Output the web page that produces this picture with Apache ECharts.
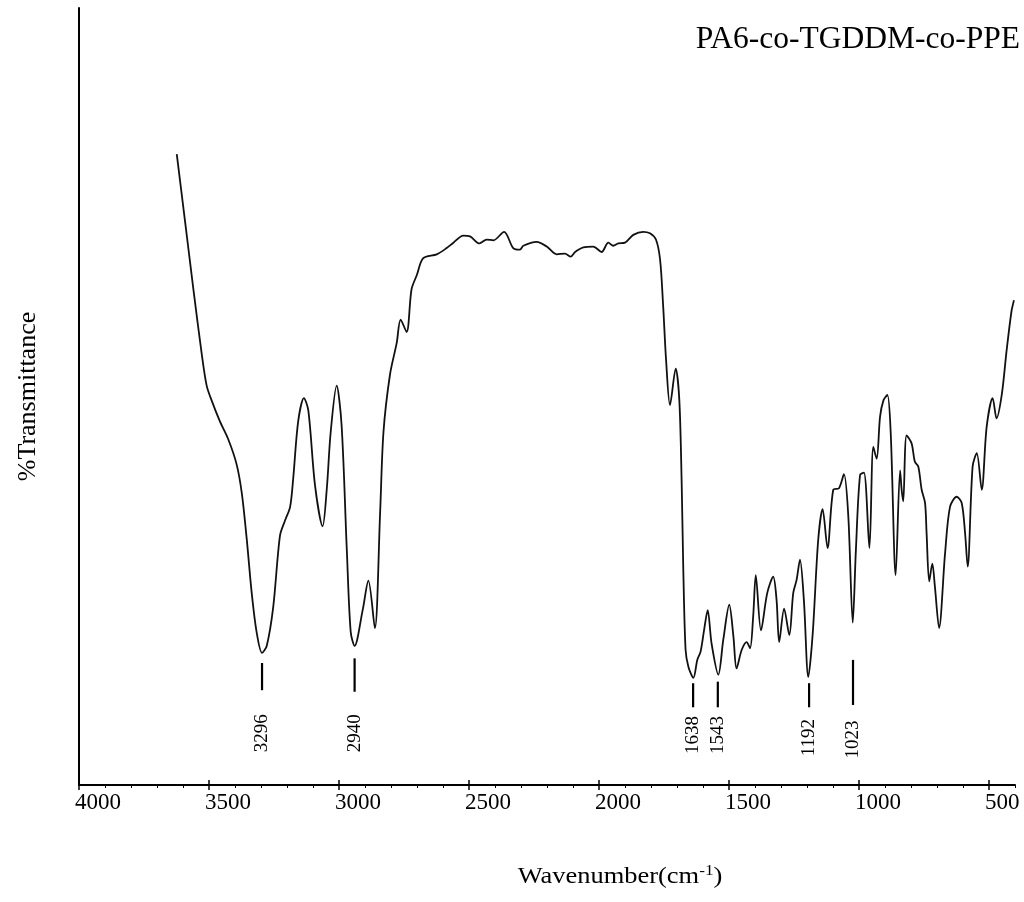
<!DOCTYPE html>
<html>
<head>
<meta charset="utf-8">
<script src="https://cdn.jsdelivr.net/npm/echarts@6/dist/echarts.min.js"></script>
<style>
html,body{margin:0;padding:0;background:#fff;}
#chart{width:1024px;height:902px;}
</style>
</head>
<body>
<div id="chart"></div>
<script>
// Spectrum (wavenumber in cm^-1, transmittance in arbitrary % units)
var wavenumbers = [3624,3592,3560,3528,3509,3490,3458,3426,3394,3374,3355,3336,3317,3296,3278,3253,3227,3208,3188,3176,3157,3135,3118,3092,3063,3047,3032,3009,2990,2970,2955,2940,2909,2887,2862,2842,2829,2804,2778,2763,2740,2721,2701,2676,2624,2586,2560,2522,2496,2460,2432,2406,2365,2330,2304,2291,2240,2201,2163,2131,2109,2092,2060,2022,1990,1964,1945,1926,1900,1868,1830,1804,1781,1765,1753,1742,1727,1705,1691,1682,1676,1667,1656,1637,1622,1609,1596,1582,1567,1541,1522,1499,1483,1471,1451,1432,1419,1407,1397,1377,1353,1330,1317,1307,1288,1268,1253,1240,1227,1212,1195,1178,1157,1140,1121,1099,1077,1058,1041,1024,1012,996,981,960,945,932,919,906,891,878,859,842,836,830,817,798,785,772,759,746,740,730,718,708,692,669,650,624,605,592,582,563,547,528,509,486,471,451,432,413,404];
var transmittance = [81.2,72.5,63.8,55.5,51.4,49.5,46.8,44.5,41.3,37.6,31.7,24.8,19.7,17.0,17.9,22.9,32.1,34.0,35.8,39.5,46.8,49.8,48.2,38.5,33.3,38.1,45.4,51.4,46.3,30.3,19.7,17.9,22.5,26.3,20.2,34.9,45.4,52.8,56.9,59.9,58.3,63.8,65.6,67.8,68.3,69.1,69.8,70.7,70.6,69.7,70.2,70.1,71.2,69.1,68.9,69.4,69.9,69.3,68.3,68.4,68.0,68.6,69.2,69.3,68.6,69.8,69.4,69.7,69.8,70.8,71.2,71.0,70.2,67.6,61.5,54.7,48.9,53.6,49.5,38.8,28.1,17.4,15.2,13.8,16.1,17.2,19.9,22.5,18.2,14.2,18.7,23.2,19.1,15.0,17.4,18.4,17.6,21.7,27.0,19.9,24.7,26.8,23.8,18.4,22.7,19.3,24.7,26.4,29.0,23.8,13.9,19.5,31.5,35.5,30.5,38.0,38.2,40.0,34.5,20.9,30.2,39.9,40.2,30.5,43.5,42.0,47.4,49.5,50.2,45.3,27.0,40.5,38.0,36.5,45.0,44.0,41.6,41.0,38.0,36.3,32.4,26.2,28.5,25.5,20.2,29.8,35.8,37.1,36.3,32.4,28.1,41.0,42.7,38.0,46.1,49.8,47.2,50.2,56.0,61.1,62.4];

// Peak annotations
var peakLabels = ['3296','2940','1638','1543','1192','1023'];
var peakPositions = [3296,2940,1638,1543,1192,1023];
var peakMarkTop = [15.7,16.3,13.1,13.3,13.1,16.1];
var peakMarkBottom = [12.2,12.0,10.0,10.0,10.0,10.3];
var peakLabelBase = [4.2,4.2,4.0,4.0,3.7,3.4];

// Axis ticks
var majorTicks = [4000,3500,3000,2500,2000,1500,1000,500];
var minorTicks = [3900,3800,3700,3600,3400,3300,3200,3100,2900,2800,2700,2600,2400,2300,2200,2100,1900,1800,1700,1600,1400,1300,1200,1100,900,800,700,600,400];

var xMin = 400, xMax = 4000;
var serif = '"Liberation Serif","DejaVu Serif",serif';

var spectrum = wavenumbers.map(function(w, i){ return [w, transmittance[i]]; });
var peaks = peakPositions.map(function(w, i){ return [w, peakMarkTop[i], peakMarkBottom[i], peakLabelBase[i], i]; });

var chart = echarts.init(document.getElementById('chart'), null, {renderer:'canvas'});

function baseX(extra){
  var o = {
    type:'value', min:xMin, max:xMax, inverse:true, position:'bottom', gridIndex:0,
    splitLine:{show:false},
    axisLine:{show:false},
    axisTick:{show:false},
    axisLabel:{show:false}
  };
  for (var k in extra) o[k] = extra[k];
  return o;
}

var option = {
  backgroundColor:'#fff',
  animation:false,
  title:{
    text:'PA6-co-TGDDM-co-PPE',
    right:4, top:24, padding:0,
    textStyle:{fontFamily:serif, fontSize:31.5, fontWeight:'normal', color:'#000'}
  },
  grid:{left:79, right:9, top:8, bottom:117, containLabel:false, outerBoundsMode:'none'},
  xAxis:[
    baseX({
      axisLine:{show:true, onZero:false, lineStyle:{color:'#000', width:2}},
      axisTick:{show:true, inside:false, length:5, customValues:majorTicks, lineStyle:{color:'#000', width:1.5}},
      axisLabel:{show:true, customValues:majorTicks, align:'left', margin:6, fontFamily:serif, fontSize:23, color:'#000',
        padding:[0,0,0,-4],
        formatter:function(v){ return String(v); }}
    }),
    baseX({
      axisTick:{show:true, inside:true, length:5, customValues:majorTicks, lineStyle:{color:'#000', width:1.5}}
    }),
    baseX({
      axisTick:{show:true, inside:false, length:3, customValues:minorTicks, lineStyle:{color:'#000', width:1}}
    })
  ],
  yAxis:{
    type:'value', min:0, max:100,
    name:'%Transmittance', nameLocation:'middle', nameGap:38,
    nameTextStyle:{fontFamily:serif, fontSize:26, color:'#000'},
    axisLine:{show:true, onZero:false, lineStyle:{color:'#000', width:2}},
    axisTick:{show:false}, axisLabel:{show:false}, splitLine:{show:false}
  },
  graphic:[{
    type:'text', x:620, y:877, scaleX:1.15,
    style:{
      text:'Wavenumber(cm{sup|-1})',
      rich:{sup:{fontFamily:serif, fontSize:15, verticalAlign:'top', padding:[0,0,12,0], fill:'#000'}},
      fontFamily:serif, fontSize:23, fill:'#000',
      textAlign:'center', textVerticalAlign:'middle'
    }
  }],
  series:[
    {
      type:'line', xAxisIndex:0, data:spectrum,
      showSymbol:false, smooth:0.3, silent:true,
      lineStyle:{color:'#111', width:1.8}
    },
    {
      type:'custom', xAxisIndex:0, data:peaks, silent:true, clip:false,
      encode:{x:0, y:1},
      renderItem:function(params, api){
        var w = api.value(0);
        var p1 = api.coord([w, api.value(1)]);
        var p2 = api.coord([w, api.value(2)]);
        var p3 = api.coord([w, api.value(3)]);
        var idx = api.value(4);
        return {
          type:'group',
          children:[
            {type:'line', shape:{x1:p1[0], y1:p1[1], x2:p2[0], y2:p2[1]}, style:{stroke:'#000', lineWidth:2.2}},
            {type:'text', x:p3[0], y:p3[1], rotation:Math.PI/2,
              style:{text:peakLabels[idx], fontFamily:serif, fontSize:19, fill:'#000', textAlign:'left', textVerticalAlign:'middle'}}
          ]
        };
      }
    }
  ]
};
chart.setOption(option);
</script>
</body>
</html>
